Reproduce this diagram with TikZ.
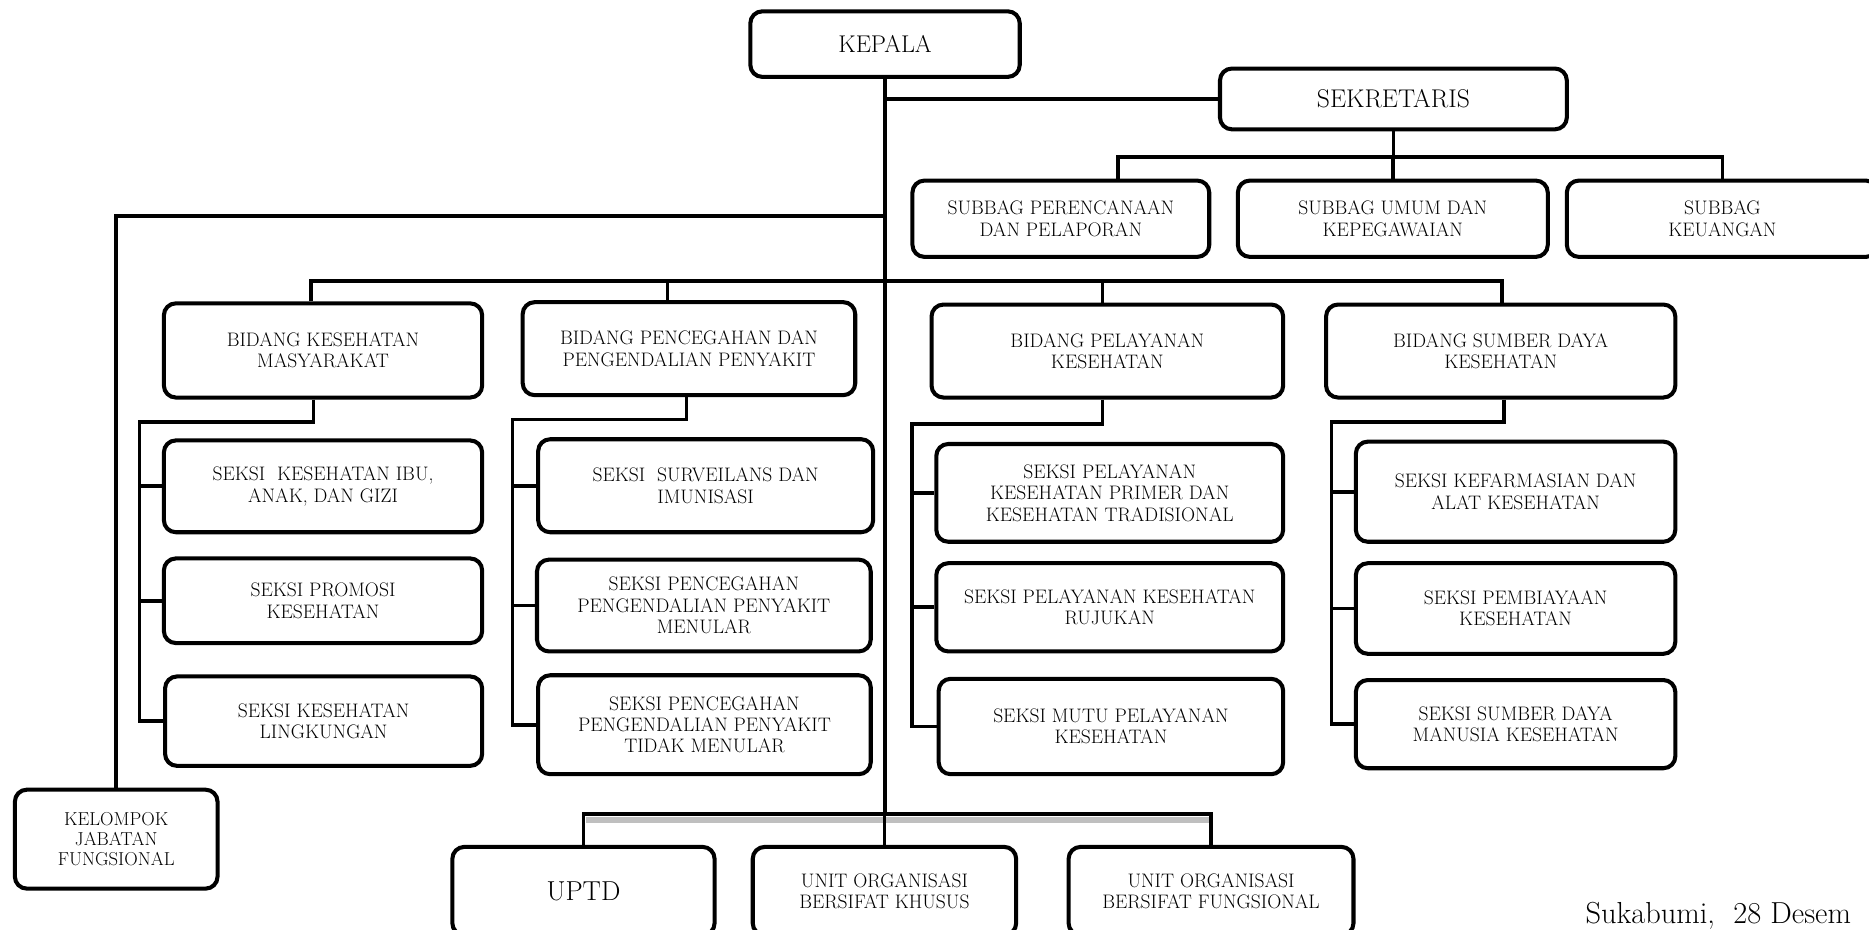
\documentclass[tikz,border=0pt]{standalone}
\usetikzlibrary{calc}
\begin{document}
\begin{tikzpicture}[x=1pt,y=-1pt,
  box/.style={draw,line width=3.4pt,rounded corners=10pt,fill=white,align=center,inner sep=0pt,font=\fontsize{16.4}{18}\selectfont},
  conn/.style={line width=3.2pt},
]
\useasboundingbox (0,0) rectangle (1568,780);
\clip (0,0) rectangle (1568,780);

% ---------- nodes ----------
\node[box,minimum width=226,minimum height=55,font=\fontsize{20.3}{22}\selectfont] (kepala) at (742.5,37) {KEPALA};
\node[box,minimum width=291,minimum height=51,font=\fontsize{21.5}{23}\selectfont] (sek) at (1169,83) {SEKRETARIS};

\node[box,minimum width=249,minimum height=64] (sb1) at (890,183.5) {SUBBAG PERENCANAAN\\DAN PELAPORAN};
\node[box,minimum width=260,minimum height=64] (sb2) at (1168.5,183.5) {SUBBAG UMUM DAN\\KEPEGAWAIAN};
\node[box,minimum width=261,minimum height=64] (sb3) at (1445,183.5) {SUBBAG\\KEUANGAN};

\node[box,minimum width=170,minimum height=83,font=\fontsize{15.7}{17}\selectfont] (kjf) at (97.5,704) {KELOMPOK\\JABATAN\\FUNGSIONAL};

\node[box,minimum width=267,minimum height=79] (b1) at (271,294) {BIDANG KESEHATAN\\MASYARAKAT};
\node[box,minimum width=279,minimum height=78] (b2) at (578,292.5) {BIDANG PENCEGAHAN DAN\\PENGENDALIAN PENYAKIT};
\node[box,minimum width=295,minimum height=78] (b3) at (929,294.5) {BIDANG PELAYANAN\\KESEHATAN};
\node[box,minimum width=293,minimum height=78] (b4) at (1259,294.5) {BIDANG SUMBER DAYA\\KESEHATAN};

\node[box,minimum width=267,minimum height=77] (k1) at (271,408) {SEKSI~ KESEHATAN IBU,\\ANAK, DAN GIZI};
\node[box,minimum width=267,minimum height=71] (k2) at (271,504) {SEKSI PROMOSI\\KESEHATAN};
\node[box,minimum width=266,minimum height=75] (k3) at (271.5,605) {SEKSI KESEHATAN\\LINGKUNGAN};

\node[box,minimum width=281,minimum height=78] (p1) at (592,407.5) {SEKSI~ SURVEILANS DAN\\IMUNISASI};
\node[box,minimum width=280,minimum height=77] (p2) at (590.5,508) {SEKSI PENCEGAHAN\\PENGENDALIAN PENYAKIT\\MENULAR};
\node[box,minimum width=279,minimum height=83] (p3) at (591,608) {SEKSI PENCEGAHAN\\PENGENDALIAN PENYAKIT\\TIDAK MENULAR};

\node[box,minimum width=291,minimum height=82] (l1) at (931,413.5) {SEKSI PELAYANAN\\KESEHATAN PRIMER DAN\\KESEHATAN TRADISIONAL};
\node[box,minimum width=291,minimum height=74] (l2) at (931,509.5) {SEKSI PELAYANAN KESEHATAN\\RUJUKAN};
\node[box,minimum width=289,minimum height=80] (l3) at (932,609.5) {SEKSI MUTU PELAYANAN\\KESEHATAN};

\node[box,minimum width=268,minimum height=84] (s1) at (1271.5,412.5) {SEKSI KEFARMASIAN DAN\\ALAT KESEHATAN};
\node[box,minimum width=268,minimum height=76] (s2) at (1271.5,510.5) {SEKSI PEMBIAYAAN\\KESEHATAN};
\node[box,minimum width=268,minimum height=74] (s3) at (1271.5,607.5) {SEKSI SUMBER DAYA\\MANUSIA KESEHATAN};

\node[box,minimum width=220,minimum height=74,font=\fontsize{23}{25}\selectfont] (u1) at (489.5,747.5) {UPTD};
\node[box,minimum width=221,minimum height=74] (u2) at (742,747.5) {UNIT ORGANISASI\\BERSIFAT KHUSUS};
\node[box,minimum width=239,minimum height=74] (u3) at (1016,747.5) {UNIT ORGANISASI\\BERSIFAT FUNGSIONAL};

\node[anchor=base west,inner sep=0pt,font=\fontsize{25.5}{27}\selectfont] (kota) at (1330,775) {Sukabumi,~ 28 Desem};

% ---------- connectors ----------
\coordinate (bbot) at (0,683);
\coordinate (jk) at (0,181);
\coordinate (bb) at (0,236);
\coordinate (sbus) at (0,132);

% trunk
\draw[conn] (kepala.south) -- (kepala.south |- bbot);
% sekretaris
\draw[conn] (kepala.south |- sek.west) -- (sek.west);
\draw[conn] (sek.south) -- (sek.south |- sbus);
\draw[conn] ([xshift=48]sb1.north) -- ([xshift=48]sb1.north |- sbus) -- (sb3.north |- sbus) -- (sb3.north);
\draw[conn] (sb2.north |- sbus) -- (sb2.north);
% kelompok jabatan fungsional
\draw[conn] (kepala.south |- jk) -| (kjf.north);
% bidang bus
\draw[conn] ([xshift=-10]b1.north) -- ([xshift=-10]b1.north |- bb) -- ([xshift=1]b4.north |- bb) -- ([xshift=1]b4.north);
\draw[conn] ([xshift=-18]b2.north |- bb) -- ([xshift=-18]b2.north);
\draw[conn] ([xshift=-4]b3.north |- bb) -- ([xshift=-4]b3.north);

% column 1
\coordinate (c1) at (117,354);
\draw[conn] ([xshift=-8]b1.south) |- (c1) -- (c1 |- k3.west) -- (k3.west);
\draw[conn] (c1 |- k1.west) -- (k1.west);
\draw[conn] (c1 |- k2.west) -- (k2.west);
% column 2
\coordinate (c2) at (430,352);
\draw[conn] ([xshift=-2]b2.south) |- (c2) -- (c2 |- p3.west) -- (p3.west);
\draw[conn] (c2 |- p1.west) -- (p1.west);
\draw[conn] (c2 |- p2.west) -- (p2.west);
% column 3
\coordinate (c3) at (765,356);
\draw[conn] ([xshift=-4]b3.south) |- (c3) -- (c3 |- l3.west) -- (l3.west);
\draw[conn] (c3 |- l1.west) -- (l1.west);
\draw[conn] (c3 |- l2.west) -- (l2.west);
% column 4
\coordinate (c4) at (1117,354);
\draw[conn] ([xshift=3]b4.south) |- (c4) -- (c4 |- s3.west) -- (s3.west);
\draw[conn] (c4 |- s1.west) -- (s1.west);
\draw[conn] (c4 |- s2.west) -- (s2.west);

% bottom bus
\draw[line width=5pt,black!25] ([xshift=2]u1.north |- bbot) ++(0,5) -- ([yshift=-5pt]u3.north |- bbot);
\draw[conn] (u1.north) -- (u1.north |- bbot) -- (u3.north |- bbot) -- (u3.north);
\draw[conn] (u2.north |- bbot) -- (u2.north);
\end{tikzpicture}
\end{document}
